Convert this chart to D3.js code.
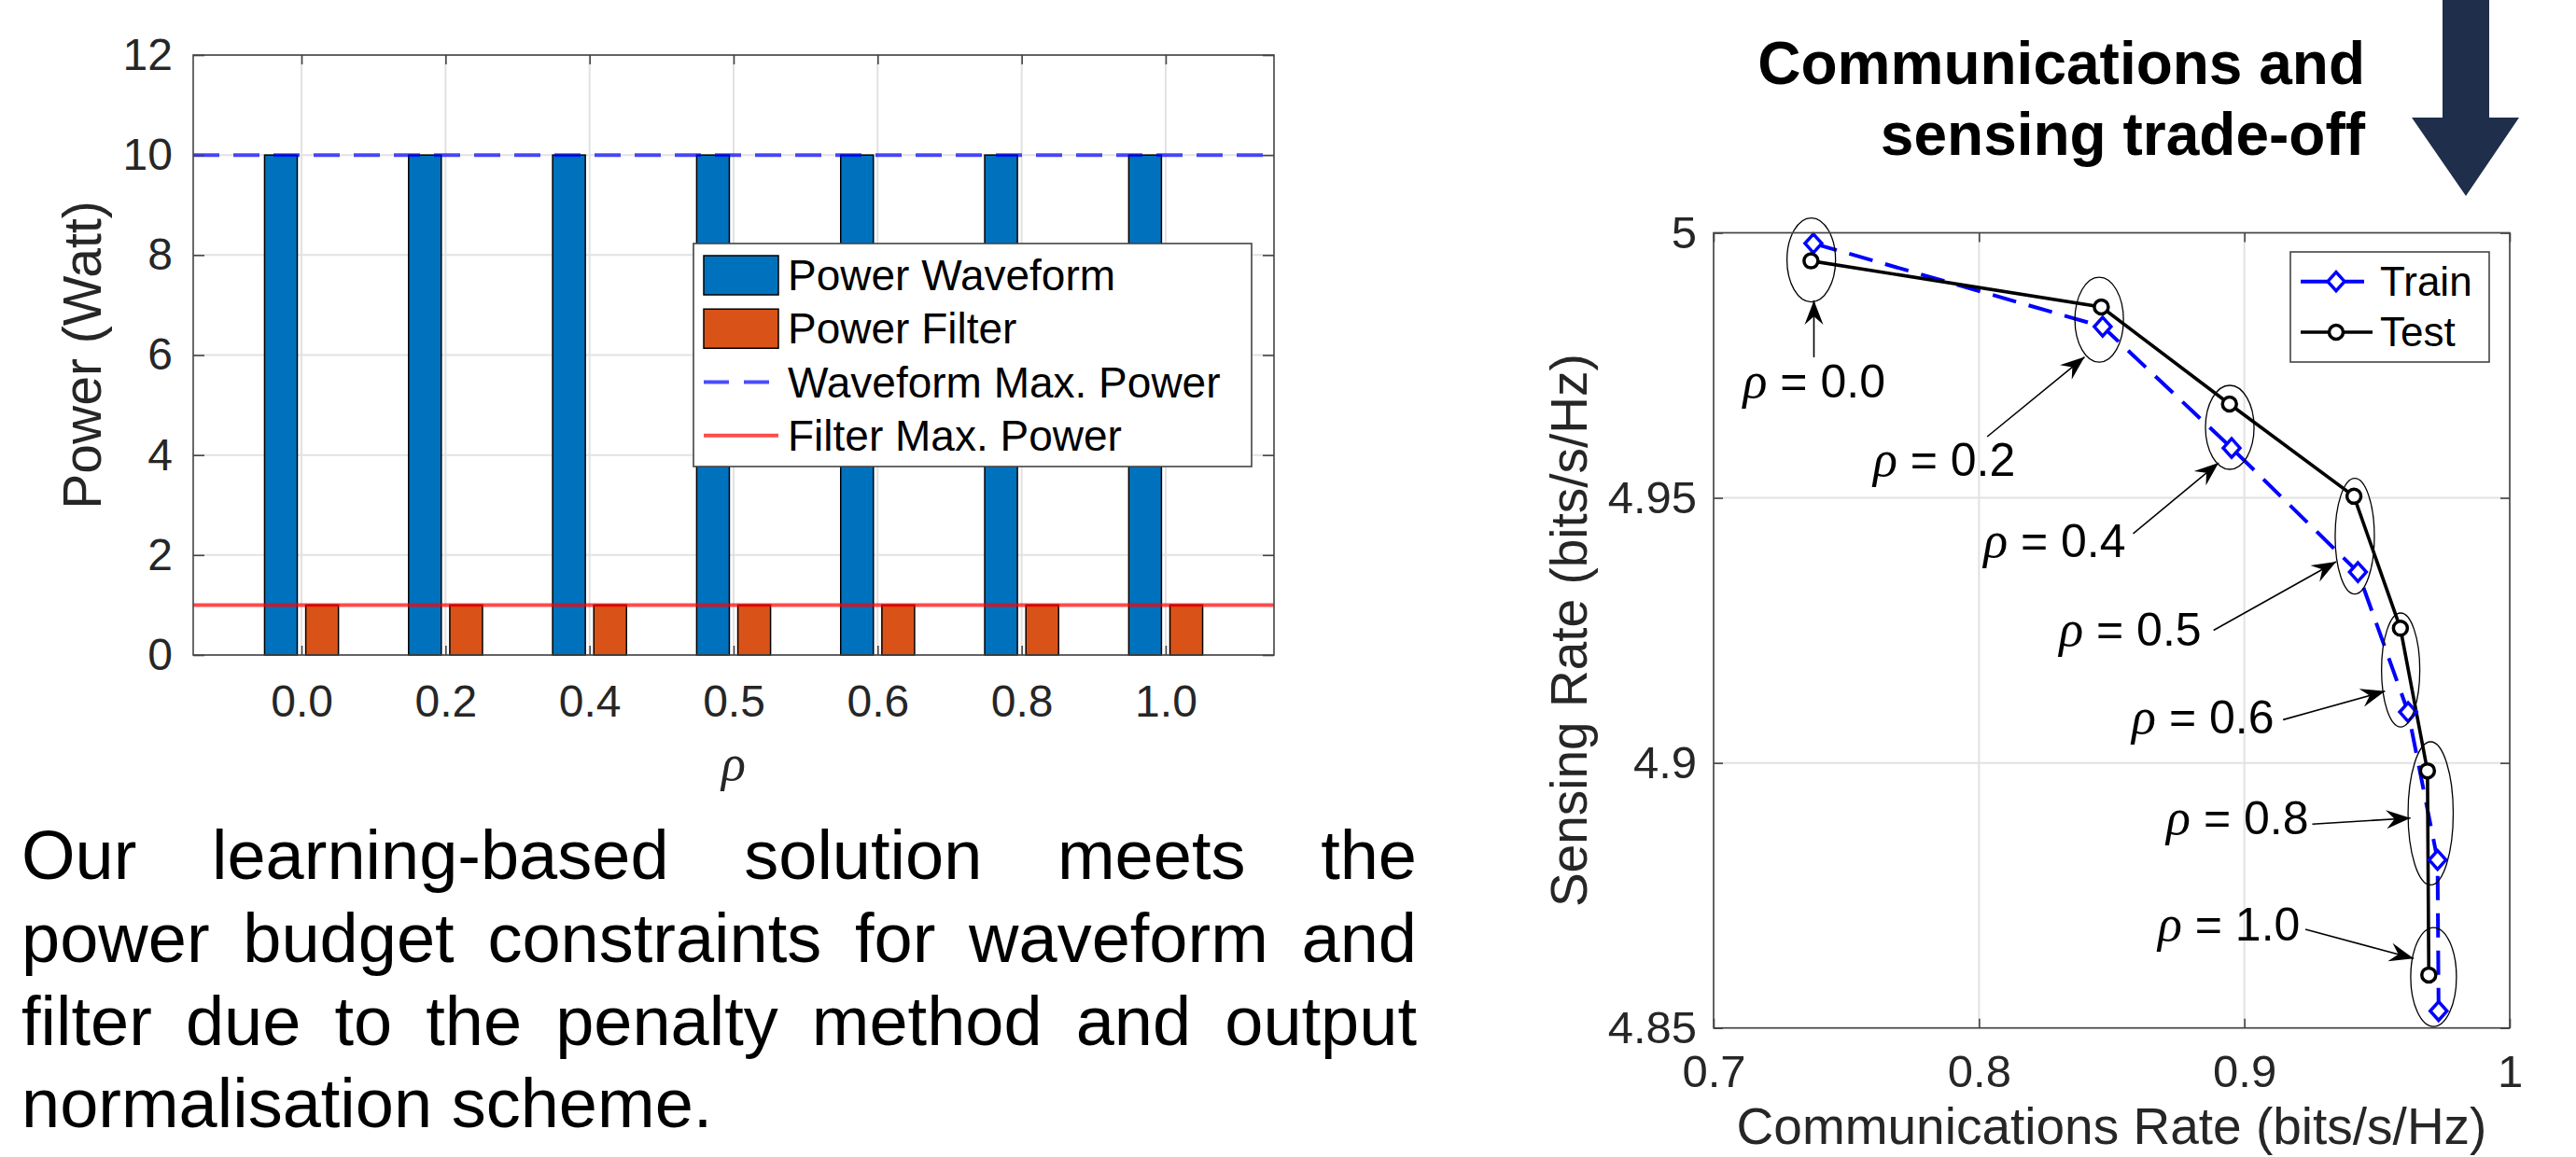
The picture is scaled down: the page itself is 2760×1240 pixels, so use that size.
<!DOCTYPE html>
<html>
<head>
<meta charset="utf-8" />
<title>Power budget and trade-off</title>
<style>
    body { margin: 0; background: #fff; }
    svg { display: block; }
</style>
</head>
<body>
<div id="container"></div>
<script src="https://cdn.jsdelivr.net/npm/d3@7"></script>
<script>
    // left chart: power per rho
    const rhoLabels = ['0.0', '0.2', '0.4', '0.5', '0.6', '0.8', '1.0']
    const powerWaveform = [10, 10, 10, 10, 10, 10, 10]
    const powerFilter = [1, 1, 1, 1, 1, 1, 1]
    const waveformMax = 10
    const filterMax = 1
    const powerTicks = [0, 2, 4, 6, 8, 10, 12]
    const leftLegend = ['Power Waveform', 'Power Filter', 'Waveform Max. Power', 'Filter Max. Power']

    // right chart: comms vs sensing rate
    const rhoValues = ['0.0', '0.2', '0.4', '0.5', '0.6', '0.8', '1.0']
    const commTrain = [0.7376, 0.8466, 0.8952, 0.9428, 0.9617, 0.9728, 0.9732]
    const sensTrain = [4.9980, 4.9823, 4.9594, 4.9360, 4.9096, 4.8817, 4.8532]
    const commTest = [0.7367, 0.8461, 0.8944, 0.9413, 0.9588, 0.9690, 0.9695]
    const sensTest = [4.9947, 4.9860, 4.9677, 4.9503, 4.9254, 4.8985, 4.8600]
    const commTicks = [0.7, 0.8, 0.9, 1]
    const sensTicks = [4.85, 4.9, 4.95, 5]

    // annotation ellipses (data units)
    const ringX = [0.7368, 0.8453, 0.8945, 0.9416, 0.9589, 0.9702, 0.9713]
    const ringY = [4.99488, 4.98360, 4.96330, 4.94276, 4.91753, 4.89048, 4.85962]
    const ringRx = [0.00915, 0.00915, 0.00915, 0.00739, 0.00721, 0.00851, 0.00862]
    const ringRy = [0.00792, 0.0080, 0.00792, 0.01091, 0.01074, 0.0135, 0.00933]
    // annotation arrows and labels (data units)
    const arrowX0 = [0.7378, 0.8031, 0.8581, 0.8884, 0.9146, 0.9256, 0.9230]
    const arrowY0 = [4.97652, 4.96154, 4.94324, 4.92502, 4.90814, 4.88844, 4.86861]
    const arrowX1 = [0.7378, 0.8398, 0.8903, 0.9346, 0.9530, 0.9626, 0.9638]
    const arrowY1 = [4.98726, 4.97657, 4.95661, 4.93796, 4.91352, 4.88960, 4.86310]
    const labelX = [0.7111, 0.7601, 0.8017, 0.8302, 0.8576, 0.8706, 0.8674]
    const labelY = [4.96893, 4.95415, 4.93883, 4.92211, 4.90562, 4.88656, 4.86649]

    const titleLines = ['Communications and', 'sensing trade-off']
    const paraLines = [
        'Our learning-based solution meets the',
        'power budget constraints for waveform and',
        'filter due to the penalty method and output',
        'normalisation scheme.'
    ]

    const FONT = '"Liberation Sans", Arial, Helvetica, sans-serif'
    const AX = '#444'
    const TXT = '#262626'
    const GRID = '#e2e2e2'

    const svg = d3.select('#container').append('svg').attr('width', 2760).attr('height', 1240)
        .attr('font-family', FONT)

    function styleAxis(g, size) {
        g.attr('font-family', null).attr('font-size', null)
        g.select('.domain').remove()
        g.selectAll('.tick line').attr('stroke', AX).attr('stroke-width', 1.6)
        g.selectAll('.tick text').attr('font-size', size).attr('fill', TXT)
    }

    // ---------------- left chart ----------------
    const L = { x0: 207, x1: 1365, y0: 59, y1: 702 }
    const xL = d3.scalePoint().domain(rhoLabels).range([L.x0, L.x1]).padding(0.752)
    const yL = d3.scaleLinear().domain([0, 12]).range([L.y1, L.y0])
    const left = svg.append('g')

    left.append('g').selectAll('line').data(rhoLabels).join('line')
        .attr('x1', d => xL(d)).attr('x2', d => xL(d)).attr('y1', L.y0).attr('y2', L.y1)
        .attr('stroke', GRID).attr('stroke-width', 2)
    left.append('g').selectAll('line').data(powerTicks).join('line')
        .attr('x1', L.x0).attr('x2', L.x1).attr('y1', d => yL(d)).attr('y2', d => yL(d))
        .attr('stroke', GRID).attr('stroke-width', 2)

    const step = xL.step()
    const barW = step * 0.227
    const off = step * 0.143
    left.append('g').selectAll('rect').data(powerWaveform).join('rect')
        .attr('x', (d, i) => xL(rhoLabels[i]) - off - barW / 2)
        .attr('y', d => yL(d)).attr('width', barW).attr('height', d => yL(0) - yL(d))
        .attr('fill', '#0072BD').attr('stroke', '#000').attr('stroke-width', 1.5)
    left.append('g').selectAll('rect').data(powerFilter).join('rect')
        .attr('x', (d, i) => xL(rhoLabels[i]) + off - barW / 2)
        .attr('y', d => yL(d)).attr('width', barW).attr('height', d => yL(0) - yL(d))
        .attr('fill', '#D95319').attr('stroke', '#000').attr('stroke-width', 1.5)

    left.append('line').attr('x1', L.x0).attr('x2', L.x1).attr('y1', yL(waveformMax)).attr('y2', yL(waveformMax))
        .attr('stroke', '#0000ff').attr('stroke-opacity', 0.7).attr('stroke-width', 4).attr('stroke-dasharray', '28 15')
    left.append('line').attr('x1', L.x0).attr('x2', L.x1).attr('y1', yL(filterMax)).attr('y2', yL(filterMax))
        .attr('stroke', '#ff0000').attr('stroke-opacity', 0.7).attr('stroke-width', 4)

    left.append('g').attr('transform', `translate(${L.x0},0)`)
        .call(d3.axisLeft(yL).tickValues(powerTicks).tickSizeInner(-12).tickSizeOuter(0).tickPadding(22))
        .call(g => styleAxis(g, 48))
    left.append('g').attr('transform', `translate(${L.x1},0)`)
        .call(d3.axisRight(yL).tickValues(powerTicks).tickSizeInner(-12).tickSizeOuter(0).tickFormat(() => ''))
        .call(g => styleAxis(g, 48))
    left.append('g').attr('transform', `translate(0,${L.y1})`)
        .call(d3.axisBottom(xL).tickSizeInner(-10).tickSizeOuter(0).tickPadding(32))
        .call(g => styleAxis(g, 48))
    left.append('g').attr('transform', `translate(0,${L.y0})`)
        .call(d3.axisTop(xL).tickSizeInner(-10).tickSizeOuter(0).tickFormat(() => ''))
        .call(g => styleAxis(g, 48))
    left.append('rect').attr('x', L.x0).attr('y', L.y0).attr('width', L.x1 - L.x0).attr('height', L.y1 - L.y0)
        .attr('fill', 'none').attr('stroke', AX).attr('stroke-width', 1.6)

    left.append('text').attr('transform', `translate(108,${(L.y0 + L.y1) / 2}) rotate(-90)`)
        .attr('text-anchor', 'middle').attr('font-size', 57).attr('fill', TXT).text('Power (Watt)')
    left.append('text').attr('x', (L.x0 + L.x1) / 2).attr('y', 836).attr('text-anchor', 'middle')
        .attr('font-family', '"Liberation Serif", "Times New Roman", serif').attr('font-style', 'italic')
        .attr('font-size', 54).attr('fill', TXT).text('ρ')

    // left legend
    const lg = left.append('g')
    lg.append('rect').attr('x', 743).attr('y', 261).attr('width', 598).attr('height', 239)
        .attr('fill', '#fff').attr('stroke', AX).attr('stroke-width', 1.6)
    const lgY = d3.scalePoint().domain(leftLegend).range([295, 466.7])
    lg.append('rect').attr('x', 754).attr('y', lgY(leftLegend[0]) - 21).attr('width', 80).attr('height', 42)
        .attr('fill', '#0072BD').attr('stroke', '#000').attr('stroke-width', 1.5)
    lg.append('rect').attr('x', 754).attr('y', lgY(leftLegend[1]) - 21).attr('width', 80).attr('height', 42)
        .attr('fill', '#D95319').attr('stroke', '#000').attr('stroke-width', 1.5)
    lg.append('line').attr('x1', 754).attr('x2', 834).attr('y1', lgY(leftLegend[2])).attr('y2', lgY(leftLegend[2]))
        .attr('stroke', '#0000ff').attr('stroke-opacity', 0.7).attr('stroke-width', 4).attr('stroke-dasharray', '27 16')
    lg.append('line').attr('x1', 754).attr('x2', 834).attr('y1', lgY(leftLegend[3])).attr('y2', lgY(leftLegend[3]))
        .attr('stroke', '#ff0000').attr('stroke-opacity', 0.7).attr('stroke-width', 4)
    lg.selectAll('text').data(leftLegend).join('text')
        .attr('x', 844).attr('y', d => lgY(d)).attr('dy', '0.35em')
        .attr('font-size', 46).attr('fill', '#000').text(d => d)

    // ---------------- right chart ----------------
    const R = { x0: 1836, x1: 2689, y0: 249.5, y1: 1101.7 }
    const xR = d3.scaleLinear().domain([0.7, 1]).range([R.x0, R.x1])
    const yR = d3.scaleLinear().domain([4.85, 5]).range([R.y1, R.y0])
    const right = svg.append('g')

    right.append('g').selectAll('line').data(commTicks).join('line')
        .attr('x1', d => xR(d)).attr('x2', d => xR(d)).attr('y1', R.y0).attr('y2', R.y1)
        .attr('stroke', GRID).attr('stroke-width', 2)
    right.append('g').selectAll('line').data(sensTicks).join('line')
        .attr('x1', R.x0).attr('x2', R.x1).attr('y1', d => yR(d)).attr('y2', d => yR(d))
        .attr('stroke', GRID).attr('stroke-width', 2)

    const trainPts = commTrain.map((c, i) => [c, sensTrain[i]])
    const testPts = commTest.map((c, i) => [c, sensTest[i]])
    const line = d3.line().x(d => xR(d[0])).y(d => yR(d[1]))

    right.append('path').attr('d', line(trainPts)).attr('fill', 'none')
        .attr('stroke', '#0000ff').attr('stroke-width', 4).attr('stroke-dasharray', '26 14')
    right.append('path').attr('d', line(testPts)).attr('fill', 'none')
        .attr('stroke', '#000').attr('stroke-width', 3.6)

    const diamond = 'M0,-10L9,0L0,10L-9,0Z'
    right.append('g').selectAll('path').data(trainPts).join('path')
        .attr('transform', d => `translate(${xR(d[0])},${yR(d[1])})`).attr('d', diamond)
        .attr('fill', '#fff').attr('stroke', '#0000ff').attr('stroke-width', 3.5)
    right.append('g').selectAll('circle').data(testPts).join('circle')
        .attr('cx', d => xR(d[0])).attr('cy', d => yR(d[1])).attr('r', 7.5)
        .attr('fill', '#fff').attr('stroke', '#000').attr('stroke-width', 3.5)

    // ellipses
    right.append('g').selectAll('ellipse').data(ringX).join('ellipse')
        .attr('cx', d => xR(d)).attr('cy', (d, i) => yR(ringY[i]))
        .attr('rx', (d, i) => xR(d + ringRx[i]) - xR(d))
        .attr('ry', (d, i) => yR(ringY[i]) - yR(ringY[i] + ringRy[i]))
        .attr('fill', 'none').attr('stroke', '#000').attr('stroke-width', 1.3)

    // arrows
    const ann = right.append('g')
    arrowX0.forEach((ax, i) => {
        const sx = xR(ax), sy = yR(arrowY0[i]), ex = xR(arrowX1[i]), ey = yR(arrowY1[i])
        const ang = Math.atan2(ey - sy, ex - sx) * 180 / Math.PI
        ann.append('line').attr('x1', sx).attr('y1', sy).attr('x2', ex).attr('y2', ey)
            .attr('stroke', '#000').attr('stroke-width', 1.6)
        ann.append('path').attr('transform', `translate(${ex},${ey}) rotate(${ang})`)
            .attr('d', 'M0,0L-26,-10L-17,0L-26,10Z').attr('fill', '#000')
        const t = ann.append('text').attr('x', xR(labelX[i])).attr('y', yR(labelY[i]))
            .attr('font-size', 50).attr('fill', '#000')
        t.append('tspan').attr('font-family', '"Liberation Serif", "Times New Roman", serif')
            .attr('font-style', 'italic').attr('font-size', 54).text('ρ')
        t.append('tspan').text(' = ' + rhoValues[i])
    })

    right.append('g').attr('transform', `translate(${R.x0},0)`)
        .call(d3.axisLeft(yR).tickValues(sensTicks).tickSizeInner(-10).tickSizeOuter(0).tickPadding(18).tickFormat(d => String(d)))
        .call(g => styleAxis(g, 49))
    right.append('g').attr('transform', `translate(${R.x1},0)`)
        .call(d3.axisRight(yR).tickValues(sensTicks).tickSizeInner(-10).tickSizeOuter(0).tickFormat(() => ''))
        .call(g => styleAxis(g, 49))
    right.append('g').attr('transform', `translate(0,${R.y1})`)
        .call(d3.axisBottom(xR).tickValues(commTicks).tickSizeInner(-10).tickSizeOuter(0).tickPadding(29).tickFormat(d => d === 1 ? '1' : d.toFixed(1)))
        .call(g => styleAxis(g, 49))
    right.append('g').attr('transform', `translate(0,${R.y0})`)
        .call(d3.axisTop(xR).tickValues(commTicks).tickSizeInner(-10).tickSizeOuter(0).tickFormat(() => ''))
        .call(g => styleAxis(g, 49))
    right.append('rect').attr('x', R.x0).attr('y', R.y0).attr('width', R.x1 - R.x0).attr('height', R.y1 - R.y0)
        .attr('fill', 'none').attr('stroke', AX).attr('stroke-width', 1.6)

    right.append('text').attr('transform', `translate(1700,${(R.y0 + R.y1) / 2}) rotate(-90)`)
        .attr('text-anchor', 'middle').attr('font-size', 55).attr('fill', TXT).text('Sensing Rate (bits/s/Hz)')
    right.append('text').attr('x', (R.x0 + R.x1) / 2).attr('y', 1226).attr('text-anchor', 'middle')
        .attr('font-size', 55).attr('fill', TXT).text('Communications Rate (bits/s/Hz)')

    // right legend
    const rg = right.append('g')
    rg.append('rect').attr('x', 2454).attr('y', 270).attr('width', 213).attr('height', 118)
        .attr('fill', '#fff').attr('stroke', AX).attr('stroke-width', 1.6)
    rg.append('line').attr('x1', 2465).attr('x2', 2533).attr('y1', 301.7).attr('y2', 301.7)
        .attr('stroke', '#0000ff').attr('stroke-width', 4)
    rg.append('path').attr('transform', 'translate(2503,301.7)').attr('d', diamond)
        .attr('fill', '#fff').attr('stroke', '#0000ff').attr('stroke-width', 3.5)
    rg.append('line').attr('x1', 2465).attr('x2', 2542).attr('y1', 356).attr('y2', 356)
        .attr('stroke', '#000').attr('stroke-width', 3.6)
    rg.append('circle').attr('cx', 2503).attr('cy', 356).attr('r', 7.5)
        .attr('fill', '#fff').attr('stroke', '#000').attr('stroke-width', 3.5)
    rg.selectAll('text').data(['Train', 'Test']).join('text')
        .attr('x', 2550).attr('y', (d, i) => [301.7, 356][i]).attr('dy', '0.35em')
        .attr('font-size', 44).attr('fill', '#000').text(d => d)

    // title and big arrow
    svg.append('g').selectAll('text').data(titleLines).join('text')
        .attr('x', 2534).attr('y', (d, i) => 90 + i * 76).attr('text-anchor', 'end')
        .attr('font-size', 64).attr('font-weight', 'bold').attr('fill', '#000').text(d => d)
    svg.append('path').attr('d', 'M2617,0L2667,0L2667,126L2699,126L2642,210L2584,126L2617,126Z')
        .attr('fill', '#1f2e4b')

    // paragraph, justified by hand
    const para = svg.append('g').attr('font-size', 74).attr('fill', '#000')
    const paraLeft = 23, paraRight = 1518
    paraLines.forEach((ln, li) => {
        const words = ln.split(' ')
        const y = 942 + li * 88.8
        const nodes = words.map(w => para.append('text').attr('y', y).text(w))
        const widths = nodes.map(n => n.node().getComputedTextLength())
        const last = li === paraLines.length - 1
        const gap = last ? 74 * 0.278 : (paraRight - paraLeft - d3.sum(widths)) / (words.length - 1)
        let x = paraLeft
        nodes.forEach((n, i) => { n.attr('x', x); x += widths[i] + gap })
    })
</script>
</body>
</html>
